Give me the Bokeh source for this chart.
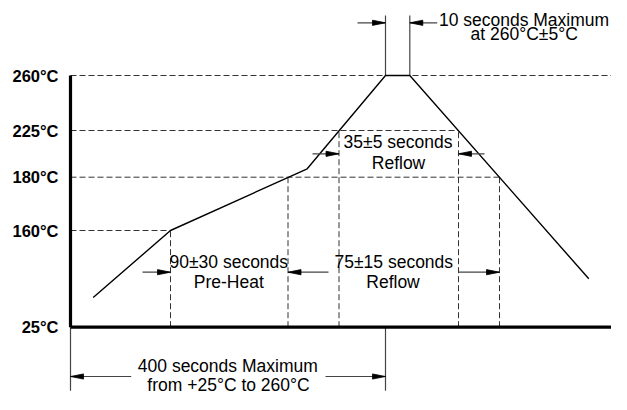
import numpy as np
from bokeh.plotting import figure
from bokeh.models import Range1d, FixedTicker
from bokeh.core.properties import value
from bokeh.embed import file_html
from bokeh.resources import INLINE

# ---- data (schematic units: x = time axis, y = temperature level height) ----
temp_labels = ["25°C", "160°C", "180°C", "225°C", "260°C"]
temp_levels = [0, 96.7, 150, 196.7, 251.7]
level_ends = [0, 100, 429, 388, 557]          # how far each dashed level line runs

profile_t = [22.7, 100, 236.7, 315, 339.3, 518.3]
profile_T = [29.7, 96.7, 158.4, 251.7, 251.7, 48.4]

# time marks where the profile crosses the levels
mark_t = [100, 217.5, 268.5, 388, 429]
mark_T = [96.7, 150, 196.7, 196.7, 150]

# dimension arrows
arrow_tail = [72, 258, 388, 242, 414, 287, 366.7, 60.7, 255]
arrow_head = [100, 217.5, 429, 268.5, 388, 315, 339.3, 0, 315]
arrow_y = [55, 55, 55, 173.4, 173.4, 304.4, 304.4, -49.3, -49.3]

# extension lines
ext_x = [315, 339.3, 0, 315]
ext_y0 = [251.7, 251.7, 0, 0]
ext_y1 = [311.7, 311.7, -63.5, -63.5]

notes = ["10 seconds Maximum", "at 260°C±5°C", "35±5 seconds", "Reflow",
         "90±30 seconds", "Pre-Heat", "75±15 seconds", "Reflow",
         "400 seconds Maximum", "from +25°C to 260°C"]
note_x = [453.5, 453.7, 327.5, 328, 158.3, 158.3, 323.3, 322.5, 157.3, 158]
note_y = [307, 292.9, 185, 164.2, 65, 45, 65, 45, -38.5, -57.5]

FONT = "Liberation Sans"

p = figure(width=611, height=394, output_backend="svg", toolbar_location=None,
           x_range=Range1d(-4, 541), y_range=Range1d(-67.3, 326.7),
           x_axis_location=None, y_axis_location="left",
           min_border_left=66, min_border_right=0, min_border_top=0, min_border_bottom=0)
p.grid.visible = False
p.outline_line_color = None
p.background_fill_color = "white"
p.border_fill_color = "white"

ax = p.yaxis[0]
ax.ticker = FixedTicker(ticks=temp_levels)
ax.major_label_overrides = {lv: lb for lv, lb in zip(temp_levels, temp_labels)}
ax.major_label_text_font = FONT
ax.major_label_text_font_style = "bold"
ax.major_label_text_font_size = "16.5px"
ax.major_label_text_color = "black"
ax.major_label_standoff = 8
ax.major_tick_in = 0
ax.major_tick_out = 0
ax.minor_tick_in = 0
ax.minor_tick_out = 0
ax.axis_line_color = None

# dashed level lines
lv = [(l, e) for l, e in zip(temp_levels, level_ends) if e > 0]
p.segment(x0=[0] * len(lv), y0=[l for l, _ in lv], x1=[e for _, e in lv], y1=[l for l, _ in lv],
          line_color="#333333", line_width=1, line_dash="6 3")
# dashed time marks
p.segment(x0=mark_t, y0=[0] * len(mark_t), x1=mark_t, y1=mark_T,
          line_color="#333333", line_width=1, line_dash="6 3")

# extension lines
p.segment(x0=ext_x, y0=ext_y0, x1=ext_x, y1=ext_y1, line_color="#444444", line_width=1.2)

# axes (thick)
top = max(temp_levels)
p.segment(x0=[0, 0], y0=[0, 0], x1=[0, 560], y1=[top, 0], line_color="black", line_width=3.2)

# profile
p.line(profile_t, profile_T, line_color="black", line_width=1.4)

# arrows: shafts + heads
tail = np.array(arrow_tail)
head = np.array(arrow_head)
ay = np.array(arrow_y)
d = np.sign(head - tail)
p.segment(x0=tail, y0=ay, x1=head, y1=ay, line_color="#444444", line_width=1.2)
hl, hw = 13, 2.6
xs = [[h, h - s * hl, h - s * hl] for h, s in zip(head, d)]
ys = [[y, y + hw, y - hw] for y in ay]
p.patches(xs, ys, fill_color="black", line_color="black", line_width=0.8)

# annotation texts
p.text(x=note_x, y=note_y, text=notes, text_font=value(FONT), text_font_size="17.5px",
       text_align="center", text_baseline="middle", text_color="black")

open("out.html", "w").write(file_html(p, INLINE))
